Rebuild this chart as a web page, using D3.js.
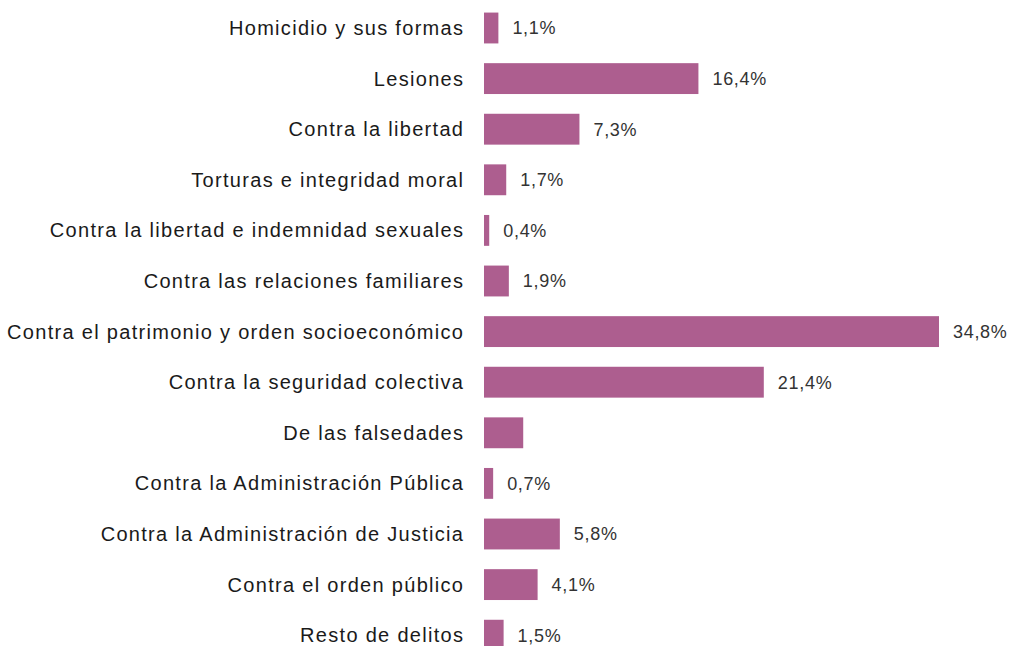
<!DOCTYPE html>
<html>
<head>
<meta charset="utf-8">
<script src="https://cdn.jsdelivr.net/npm/d3@7"></script>
<style>
  body { margin: 0; background: #fff; }
  .cat { font-family: "Liberation Sans", Arial, sans-serif; font-size: 20px; letter-spacing: 1.3px; fill: #1a1a1a; }
  .val { font-family: "Liberation Sans", Arial, sans-serif; font-size: 18px; letter-spacing: 0.7px; fill: #333; }
</style>
</head>
<body>
<div id="chart"></div>
<script>
// Chart data
const categories = [
  "Homicidio y sus formas",
  "Lesiones",
  "Contra la libertad",
  "Torturas e integridad moral",
  "Contra la libertad e indemnidad sexuales",
  "Contra las relaciones familiares",
  "Contra el patrimonio y orden socioeconómico",
  "Contra la seguridad colectiva",
  "De las falsedades",
  "Contra la Administración Pública",
  "Contra la Administración de Justicia",
  "Contra el orden público",
  "Resto de delitos"
];
const values = [1.1, 16.4, 7.3, 1.7, 0.4, 1.9, 34.8, 21.4, 3.0, 0.7, 5.8, 4.1, 1.5];
// no value label is printed for "De las falsedades"
const valueLabels = ["1,1%", "16,4%", "7,3%", "1,7%", "0,4%", "1,9%", "34,8%", "21,4%", null, "0,7%", "5,8%", "4,1%", "1,5%"];

const WIDTH = 1009, HEIGHT = 646;
const X0 = 484, X1 = 939;

const svg = d3.select("#chart").append("svg")
  .attr("width", WIDTH)
  .attr("height", HEIGHT);

const x = d3.scaleLinear().domain([0, 34.8]).range([X0, X1]);
const y = d3.scaleBand()
  .domain(categories)
  .range([2.7, 2.7 + 13 * 50.6])
  .paddingInner(0.39)
  .paddingOuter(0.195);

const rows = svg.selectAll(".row")
  .data(categories.map((c, i) => ({cat: c, v: values[i], lab: valueLabels[i]})))
  .enter().append("g")
  .attr("class", "row");

rows.append("rect")
  .attr("x", x(0))
  .attr("y", d => y(d.cat))
  .attr("width", d => x(d.v) - x(0))
  .attr("height", y.bandwidth())
  .attr("fill", "#ad5e8f");

// category labels, right aligned against the bars (+1.3 for trailing letter-spacing)
rows.append("text")
  .attr("class", "cat")
  .attr("x", X0 - 21 + 1.3)
  .attr("y", d => y(d.cat) + y.bandwidth() / 2)
  .attr("dy", "0.35em")
  .attr("text-anchor", "end")
  .text(d => d.cat);

rows.filter(d => d.lab)
  .append("text")
  .attr("class", "val")
  .attr("x", d => x(d.v) + 14)
  .attr("y", d => y(d.cat) + y.bandwidth() / 2)
  .attr("dy", "0.35em")
  .text(d => d.lab);
</script>
</body>
</html>
